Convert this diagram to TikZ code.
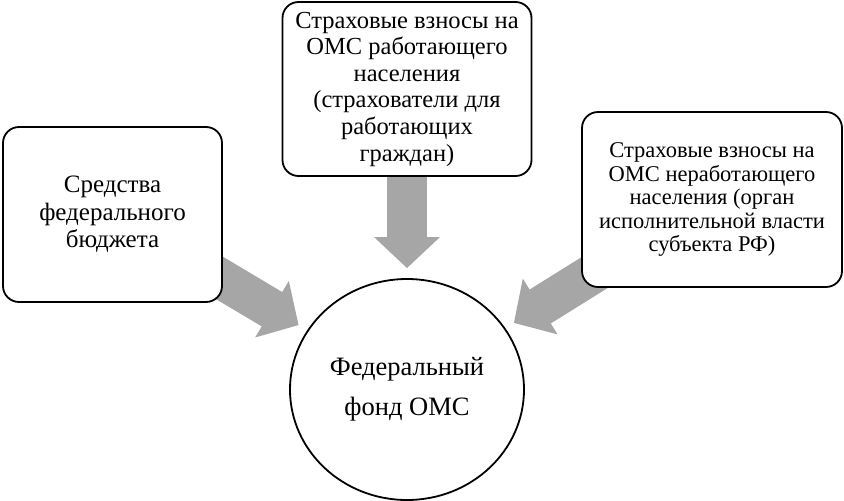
\documentclass[tikz,border=0pt]{standalone}
\usepackage{fontspec}
\setmainfont{Liberation Serif}
\usetikzlibrary{arrows.meta,shapes.geometric,backgrounds}
\definecolor{arrowgray}{RGB}{166,166,166}
\begin{document}
\begin{tikzpicture}[x=1pt,y=-1pt,
  box/.style={draw=black,line width=1.8pt,rounded corners=16pt,fill=white,align=center,inner sep=0pt},
  fundshape/.style={ellipse,draw=black,line width=1.8pt,fill=white,align=center,inner sep=0pt,minimum width=234pt,minimum height=221pt},
  bigarrow/.style={draw=arrowgray,line width=40pt,-{Triangle[length=31pt 0 0,width=64pt 0 0]},shorten >=10pt,shorten <=-30pt}
 ]
\useasboundingbox (0,0) rectangle (844,501);
\node[box,minimum width=219pt,minimum height=175pt,font=\fontsize{25}{27.5}\selectfont] (budget) at (112.5,214.5) {Средства\\федерального\\бюджета};
\node[box,minimum width=249pt,minimum height=174pt,font=\fontsize{24.5}{26.6}\selectfont] (working) at (407,89) {Страховые взносы на\\ОМС работающего\\населения\\(страхователи для\\работающих\\граждан)};
\node[box,minimum width=260pt,minimum height=175pt,font=\fontsize{22.5}{23.5}\selectfont] (nonworking) at (712,199.5) {Страховые взносы на\\ОМС неработающего\\населения (орган\\исполнительной власти\\субъекта РФ)};
\node[fundshape,font=\fontsize{26.5}{40}\selectfont] (fund) at (407,389.5) {\raisebox{-3pt}{Федеральный}\\\raisebox{-3pt}{фонд ОМС}};
\begin{pgfonlayer}{background}
\draw[bigarrow] (budget) -- (fund);
\draw[bigarrow] (working) -- (fund);
\draw[bigarrow] (nonworking) -- (fund);
\end{pgfonlayer}
\end{tikzpicture}
\end{document}
